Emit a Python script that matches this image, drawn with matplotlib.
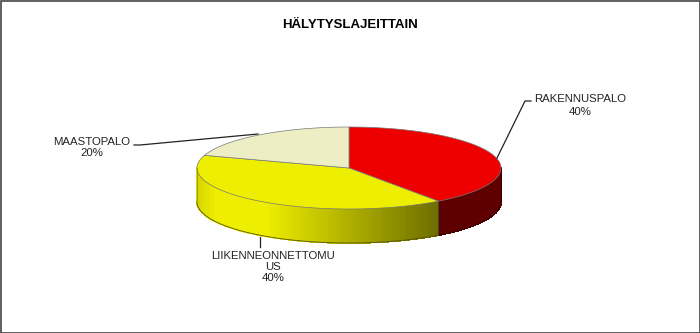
import numpy as np
import matplotlib.pyplot as plt
from matplotlib.patches import Polygon, Rectangle
from matplotlib.collections import PolyCollection
from matplotlib.colors import to_rgb

plt.rcParams['font.family'] = ['Liberation Sans', 'DejaVu Sans']

# data
categories = ['RAKENNUSPALO', 'LIIKENNEONNETTOMU\nUS', 'MAASTOPALO']
values = [40, 40, 20]
top_colors = ['#ee0000', '#eeee00', '#eeeec4']
side_colors = ['#5e0000', '#eeee00', '#c8c8a0']
title = 'HÄLYTYSLAJEITTAIN'

# geometry in pixels (y down)
cx, cy, rx, ry, depth = 349, 168, 152, 41, 34

fig = plt.figure(figsize=(7, 3.33), dpi=100)
ax = fig.add_axes([0, 0, 1, 1])
ax.set_xlim(0, 700)
ax.set_ylim(333, 0)
ax.axis('off')

def pt(t):
    t = np.radians(t)
    return cx + rx * np.cos(t), cy - ry * np.sin(t)

total = sum(values)
bounds = [90]
for v in values:
    bounds.append(bounds[-1] - 360 * v / total)

# sides (front half only: -180..0)
for i in range(len(values)):
    a0, a1 = bounds[i], bounds[i + 1]
    lo, hi = max(min(a0, a1), -180), min(max(a0, a1), 0)
    if lo >= hi:
        continue
    ts = np.linspace(hi, lo, 120)
    polys, cols = [], []
    base = np.array(to_rgb(side_colors[i]))
    for t0, t1 in zip(ts[:-1], ts[1:]):
        x0, y0 = pt(t0)
        x1, y1 = pt(t1)
        polys.append([(x0, y0), (x1, y1), (x1, y1 + depth), (x0, y0 + depth)])
        xm = (x0 + x1) / 2
        if i == 1:
            f = 1 - 0.55 * (xm - 265) / 175
            f = np.clip(f, 0.45, 1.0)
            if xm < 215:
                f = 0.9 + 0.1 * (xm - 197) / 18
        else:
            f = 1.0
        cols.append(np.clip(base * f, 0, 1))
    ax.add_collection(PolyCollection(polys, facecolors=cols, edgecolors=cols,
                                     linewidths=0.6, antialiaseds=False))
    xs = [pt(t)[0] for t in ts]
    ys = [pt(t)[1] for t in ts]
    ax.plot(xs, np.array(ys) + depth, color='#555500' if i == 1 else '#300000', lw=0.6)

# vertical edges
xb, yb = pt(bounds[1])
ax.plot([xb, xb], [yb, yb + depth], color='#333333', lw=0.5)
for t in (-180, 0):
    x, y = pt(t)
    ax.plot([x, x], [y, y + depth], color='#888800' if t == -180 else '#300000', lw=0.5)

# top faces
for i in range(len(values)):
    ts = np.linspace(bounds[i], bounds[i + 1], 100)
    verts = [(cx, cy)] + [pt(t) for t in ts]
    ax.add_patch(Polygon(verts, closed=True, facecolor=top_colors[i],
                         edgecolor='#777777', lw=0.5))

ax.text(350, 25, title, ha='center', va='center', fontsize=9.5, fontweight='bold')

lab_kw = dict(ha='center', va='center', fontsize=8.2, color='#222222')
# RAKENNUSPALO
ax.plot([497, 525, 531], [158, 101, 101], color='#222222', lw=0.9)
ax.text(580, 105.5, f'{categories[0]}\n{values[0]}%', linespacing=1.35, **lab_kw)
# MAASTOPALO
ax.plot([134, 140, 258], [145, 145, 134], color='#222222', lw=0.9)
ax.text(92, 147.5, f'{categories[2]}\n{values[2]}%', linespacing=1.15, **lab_kw)
# LIIKENNEONNETTOMUUS
ax.plot([260, 260], [237, 247], color='#222222', lw=0.9)
ax.text(273, 267, f'{categories[1]}\n{values[1]}%', linespacing=1.1, **lab_kw)

ax.add_patch(Rectangle((0.5, 0.5), 699, 332, fill=False, edgecolor='#444444', lw=1.2))

fig.savefig('out.png', dpi=100, facecolor='white')
